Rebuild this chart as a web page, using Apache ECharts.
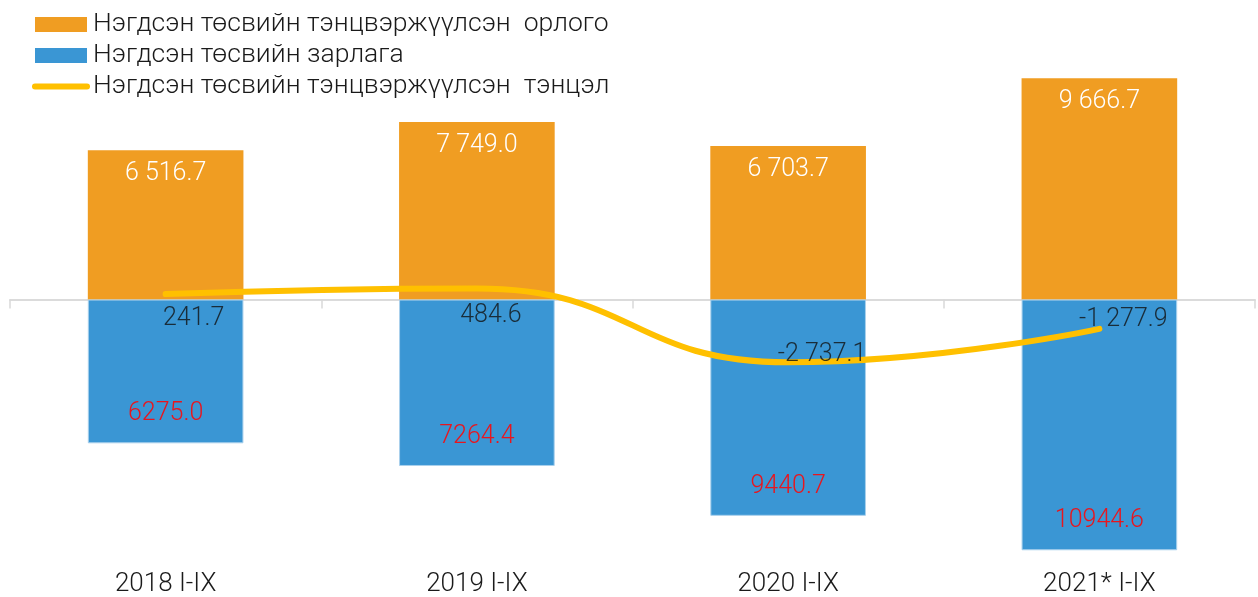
<!DOCTYPE html>
<html>
<head>
<meta charset="utf-8">
<script src="https://cdn.jsdelivr.net/npm/echarts@6/dist/echarts.min.js"></script>
<style>
html, body { margin: 0; padding: 0; background: #fff; }
#main { width: 1258px; height: 597px; }
</style>
</head>
<body>
<div id="main"></div>
<script>
// өгөгдөл
var categories = ["2018 I-IX", "2019 I-IX", "2020 I-IX", "2021* I-IX"];
var revenue = [6516.7, 7749.0, 6703.7, 9666.7];
var expense = [6275.0, 7264.4, 9440.7, 10944.6];
var balance = [241.7, 484.6, -2737.1, -1277.9];
var names = [
	"Нэгдсэн төсвийн тэнцвэржүүлсэн  орлого",
	"Нэгдсэн төсвийн зарлага",
	"Нэгдсэн төсвийн тэнцвэржүүлсэн  тэнцэл"
];

// label offsets for the balance line (px)
var lineLabelOffsets = [[28, 25], [14, 27], [34, -8], [24, -9]];

var fmtSpace = function(v){
	var s = Math.abs(v).toFixed(1).split(".");
	s[0] = s[0].replace(/\B(?=(\d{3})+(?!\d))/g, " ");
	return (v < 0 ? "-" : "") + s.join(".");
}

var FONT = "Roboto";
var AXIS_GRAY = "#d9d9d9";
var gridBox = { left: 10, right: 3, top: 70.5, bottom: 34, outerBoundsMode: "none", containLabel: false };

var chart = echarts.init(document.getElementById("main"));

var option = {
	animation: false,
	backgroundColor: "#fff",
	textStyle: { fontFamily: FONT },
	legend: {
		orient: "vertical",
		left: 32,
		top: 11,
		padding: 0,
		itemWidth: 52,
		itemHeight: 15,
		itemGap: 4,
		textStyle: { fontSize: 26.5, fontWeight: 300, color: "#1a1a1a", lineHeight: 27, padding: [0, 0, 0, 1] },
		data: [
			{ name: names[0], icon: "rect" },
			{ name: names[1], icon: "rect", itemStyle: { borderWidth: 0 } },
			{ name: names[2], itemStyle: { opacity: 0 }, lineStyle: { width: 6, cap: "round", color: "#FFC000" } }
		]
	},
	grid: [
		Object.assign({}, gridBox),
		Object.assign({}, gridBox)
	],
	xAxis: [{
		// category labels at the bottom
		type: "category",
		gridIndex: 0,
		data: categories,
		position: "bottom",
		axisLine: { show: false, onZero: false },
		axisTick: { show: false },
		axisLabel: { margin: 8, fontSize: 26, fontWeight: 300, color: "#1a1a1a" },
		splitLine: { show: false }
	}, {
		// zero line with boundary ticks
		type: "category",
		gridIndex: 0,
		data: categories,
		position: "top",
		axisLine: { show: true, onZero: true, lineStyle: { color: AXIS_GRAY, width: 1.5 } },
		axisTick: { show: true, inside: true, alignWithLabel: false, length: 9, lineStyle: { color: AXIS_GRAY, width: 1.5 } },
		axisLabel: { show: false },
		splitLine: { show: false }
	}, {
		// small ticks under each category centre
		type: "category",
		gridIndex: 1,
		data: categories,
		position: "bottom",
		axisLine: { show: true, onZero: true, lineStyle: { color: AXIS_GRAY, width: 1.5 } },
		axisTick: { show: true, alignWithLabel: true, length: 6, lineStyle: { color: AXIS_GRAY, width: 1.5 } },
		axisLabel: { show: false },
		splitLine: { show: false }
	}],
	yAxis: [{
		type: "value",
		gridIndex: 0,
		min: -11500,
		max: 10000,
		show: false,
		splitLine: { show: false }
	}, {
		type: "value",
		gridIndex: 1,
		min: -11500,
		max: 10000,
		show: false,
		splitLine: { show: false }
	}],
	series: [{
		name: names[0],
		type: "bar",
		stack: "budget",
		barWidth: "50%",
		data: revenue,
		itemStyle: { color: "#F09D22" },
		label: {
			show: true,
			position: "insideTop",
			distance: 11,
			color: "#fff",
			fontSize: 25,
			fontWeight: 300,
			formatter: function(p){ return fmtSpace(p.value); }
		}
	}, {
		name: names[1],
		type: "bar",
		stack: "budget",
		barWidth: "50%",
		data: expense.map(function(v){ return -v; }),
		itemStyle: { color: "#3A96D4", borderColor: "#a9d0ec", borderWidth: 1 },
		label: {
			show: true,
			position: "insideBottom",
			distance: 17,
			color: "#E8161E",
			fontSize: 25,
			fontWeight: 300,
			formatter: function(p){ return Math.abs(p.value).toFixed(1); }
		}
	}, {
		name: names[2],
		type: "line",
		smooth: true,
		symbol: "none",
		z: 5,
		lineStyle: { color: "#FFC000", width: 6, cap: "round" },
		itemStyle: { color: "#FFC000" },
		data: balance
	}, {
		// invisible carrier for the balance labels
		name: "balanceLabels",
		type: "scatter",
		silent: true,
		symbolSize: 1,
		z: 6,
		itemStyle: { color: "transparent" },
		data: balance.map(function(v, i){
			return {
				value: v,
				label: { offset: lineLabelOffsets[i] }
			};
		}),
		label: {
			show: true,
			position: "inside",
			color: "#111",
			fontSize: 25,
			fontWeight: 300,
			formatter: function(p){ return fmtSpace(p.value); }
		}
	}]
};

chart.setOption(option);
</script>
</body>
</html>
